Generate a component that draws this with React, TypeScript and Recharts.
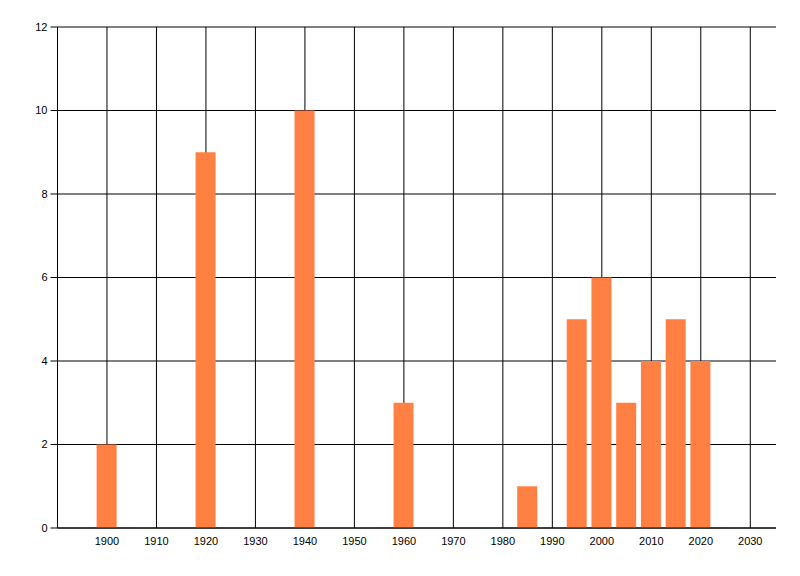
import { Bar, BarChart, CartesianGrid, XAxis, YAxis } from "recharts";

const years = [1900, 1920, 1940, 1960, 1985, 1995, 2000, 2005, 2010, 2015, 2020];
const counts = [2, 9, 10, 3, 1, 5, 6, 3, 4, 5, 4];
const xTicks = [1890, 1900, 1910, 1920, 1930, 1940, 1950, 1960, 1970, 1980, 1990, 2000, 2010, 2020, 2030];
const yTicks = [0, 2, 4, 6, 8, 10, 12];
const xDomain: [number, number] = [1890, 2035.2];

const data = years.map((year, i) => ({ year, count: counts[i] }));

const tickStyle = { fontFamily: "Liberation Sans, Arial, sans-serif", fontSize: 11, fill: "#000" };

const XTick = (props: any) => {
  const { x, y, payload } = props;
  if (payload.value === 1890) return null;
  return (
    <text x={x} y={y} dy={9} textAnchor="middle" style={tickStyle}>
      {payload.value}
    </text>
  );
};

// grid only at the tick years, no extra line at the right edge of the domain
const verticalLines = ({ xAxis, offset }: any) => {
  const s = xAxis?.scale;
  if (typeof s === "function") return xTicks.map((t) => s(t));
  if (s && typeof s.map === "function") return xTicks.map((t) => s.map(t));
  const [d0, d1] = xDomain;
  return xTicks.map((t) => offset.left + ((t - d0) / (d1 - d0)) * offset.width);
};

export default function App() {
  return (
    <BarChart
      width={800}
      height={560}
      data={data}
      margin={{ top: 19, right: 32, left: 0, bottom: 0 }}
      style={{ background: "#fff" }}
    >
      <CartesianGrid stroke="#000" strokeWidth={1} verticalCoordinatesGenerator={verticalLines} />
      <XAxis
        dataKey="year"
        type="number"
        domain={xDomain}
        ticks={xTicks}
        interval={0}
        height={40}
        tickLine={false}
        axisLine={{ stroke: "#000" }}
        tick={<XTick />}
      />
      <YAxis
        type="number"
        domain={[0, 12]}
        ticks={yTicks}
        interval={0}
        width={49.5}
        tickSize={7}
        tickMargin={3}
        tickLine={{ stroke: "#000" }}
        axisLine={{ stroke: "#000" }}
        tick={tickStyle}
      />
      <Bar dataKey="count" fill="#ff8042" barSize={20} isAnimationActive={false} />
    </BarChart>
  );
}
